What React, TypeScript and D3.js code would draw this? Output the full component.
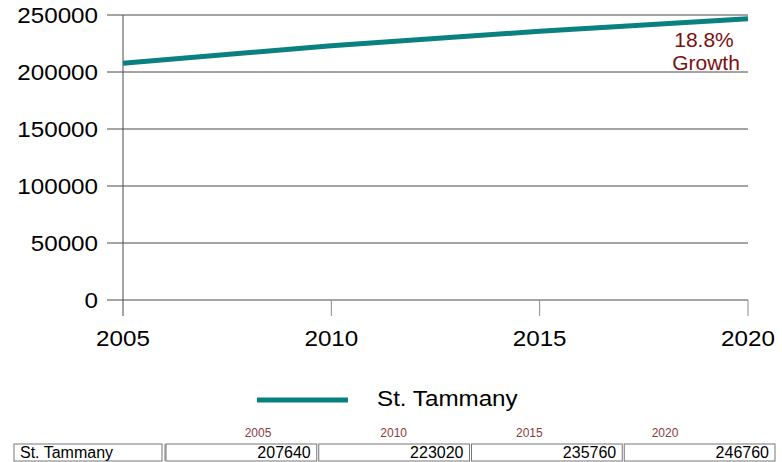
import React from "react";
import * as d3 from "d3";

const years = [2005, 2010, 2015, 2020];
const population = [207640, 223020, 235760, 246760];
const yTicks = [0, 50000, 100000, 150000, 200000, 250000];
const seriesName = "St. Tammany";
const growthLabel = ["18.8%", "Growth"];

const W = 782;
const H = 462;
const FONT = "'Liberation Sans', Arial, sans-serif";
const TEAL = "#0b8080";
const DARKRED = "#7a1010";
const SX = 1.1;

// stretched text, the original is a bit wide
const T = ({ x, y, size, anchor = "start", fill = "#000", sx = SX, children }: any) => (
  <text
    transform={`translate(${x},${y}) scale(${sx},1)`}
    fontSize={size}
    fontFamily={FONT}
    textAnchor={anchor}
    fill={fill}
  >
    {children}
  </text>
);

const App = () => {
  const x = d3.scaleLinear().domain([2005, 2020]).range([123, 748]);
  const y = d3.scaleLinear().domain([0, 250000]).range([300, 15]);
  const line = d3
    .line<number>()
    .x((_, i) => x(years[i]))
    .y((d) => y(d));

  // table columns
  const col = d3.scaleBand<number>().domain(years).range([166, 777]);
  const yearLbl = d3.scaleLinear().domain([2005, 2020]).range([258, 665]);
  const tTop = 444;
  const tBot = 461;

  return (
    <svg
      width={W}
      height={H}
      style={{ position: "absolute", left: 0, top: 0, background: "#fff" }}
    >
      {yTicks.map((t) => (
        <g key={t}>
          <line x1={107} x2={748} y1={y(t)} y2={y(t)} stroke="#4a4a4a" strokeWidth={1} />
          <T x={98} y={y(t) + 8} size={22} anchor="end">
            {t}
          </T>
        </g>
      ))}
      <line x1={x(2005)} x2={x(2005)} y1={y(250000)} y2={316} stroke="#4a4a4a" />
      {years.slice(1).map((yr) => (
        <line key={yr} x1={x(yr)} x2={x(yr)} y1={y(0)} y2={316} stroke="#8a8a8a" />
      ))}
      {years.map((yr) => (
        <T key={yr} x={x(yr)} y={346} size={22} anchor="middle">
          {yr}
        </T>
      ))}

      <path d={line(population) || ""} fill="none" stroke={TEAL} strokeWidth={5} />

      <T x={704} y={47} size={20} anchor="middle" fill={DARKRED} sx={1.05}>
        {growthLabel[0]}
      </T>
      <T x={706} y={70} size={20} anchor="middle" fill={DARKRED} sx={1.05}>
        {growthLabel[1]}
      </T>

      {/* legend */}
      <line x1={257} x2={348} y1={400} y2={400} stroke={TEAL} strokeWidth={5} />
      <T x={377} y={406} size={22}>
        {seriesName}
      </T>

      {/* data table */}
      {years.map((yr) => (
        <T key={yr} x={yearLbl(yr)} y={437} size={12} anchor="middle" fill="#8b3a3a" sx={1}>
          {yr}
        </T>
      ))}
      <rect x={14} y={tTop} width={148} height={tBot - tTop} fill="none" stroke="#777" />
      <line x1={165} x2={165} y1={tTop} y2={tBot} stroke="#777" />
      <T x={20} y={458} size={16} sx={1}>
        {seriesName}
      </T>
      {years.map((yr, i) => (
        <g key={yr}>
          <rect
            x={col(yr)!}
            y={tTop}
            width={col.bandwidth() - 2}
            height={tBot - tTop}
            fill="none"
            stroke="#777"
          />
          <T x={col(yr)! + col.bandwidth() - 8} y={458} size={16} anchor="end" sx={1}>
            {population[i]}
          </T>
        </g>
      ))}
    </svg>
  );
};

export default App;
